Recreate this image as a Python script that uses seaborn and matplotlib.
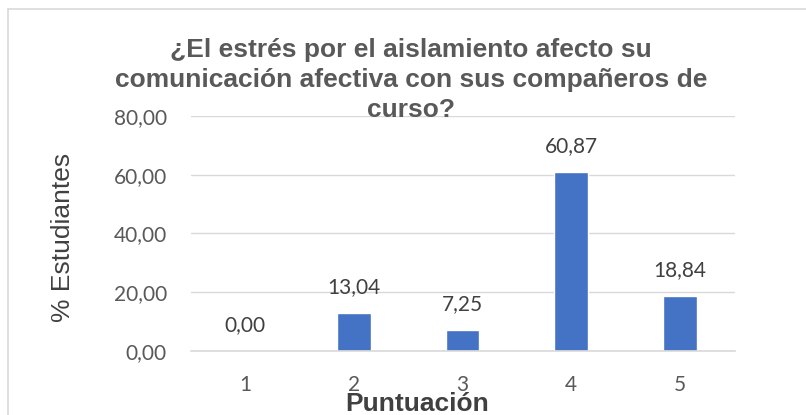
import matplotlib
matplotlib.use("Agg")
import matplotlib.pyplot as plt
import pandas as pd
import seaborn as sns
from matplotlib.lines import Line2D

# Datos del gráfico
puntuacion = ["1", "2", "3", "4", "5"]
porcentaje = [0.00, 13.04, 7.25, 60.87, 18.84]
yticks = [0, 20, 40, 60, 80]

titulo = ("¿El estrés por el aislamiento afecto su\n"
          "comunicación afectiva con sus compañeros de\n"
          "curso?")

df = pd.DataFrame({"Puntuacion": puntuacion, "Porcentaje": porcentaje})

W, H = 806, 415
sns.set_style("white")
fig = plt.figure(figsize=(W / 100, H / 100), dpi=100)
ax = fig.add_axes([190.5 / W, 1 - 351 / H, 544 / W, 235 / H])

sns.barplot(data=df, x="Puntuacion", y="Porcentaje", color="#4472C4",
            saturation=1, width=0.31, ax=ax)

ax.set_ylim(0, 80)
ax.set_yticks(yticks)
ax.set_yticklabels([f"{v:.2f}".replace(".", ",") for v in yticks])
ax.grid(axis="y", color="#d9d9d9", linewidth=1.0)
ax.set_axisbelow(True)
for s in ["top", "right", "left"]:
    ax.spines[s].set_visible(False)
ax.spines["bottom"].set_color("#d9d9d9")
ax.spines["bottom"].set_linewidth(1.2)
ax.tick_params(axis="both", length=0, labelsize=15, labelcolor="#595959")
ax.tick_params(axis="y", pad=17)
ax.tick_params(axis="x", pad=17)
for lab in ax.get_xticklabels() + ax.get_yticklabels():
    lab.set_family("Lato")
ax.set_xlabel("")
ax.set_ylabel("")

# Etiquetas de datos
for p, v in zip(ax.patches, porcentaje):
    ax.annotate(f"{v:.2f}".replace(".", ","),
                (p.get_x() + p.get_width() / 2., p.get_height()),
                ha="center", va="center", xytext=(0, 18.5),
                textcoords="offset points", fontsize=15,
                color="#404040", family="Lato")

fig.text(411 / W, 1 - 80 / H, titulo, ha="center", va="center",
         fontsize=19, fontweight="bold", color="#595959",
         family="Liberation Sans", linespacing=1.3)
fig.text(63 / W, 1 - 237.5 / H, "% Estudiantes", rotation=90,
         ha="center", va="center", fontsize=19, color="#404040",
         family="Liberation Sans")
fig.text(417 / W, 1 - 411 / H, "Puntuación", ha="center", va="baseline",
         fontsize=19, fontweight="bold", color="#404040",
         family="Liberation Sans")

# Marco del gráfico
fig.add_artist(Line2D([8 / W, 8 / W], [0, 1 - 9 / H], color="#d9d9d9",
                      linewidth=1.2, transform=fig.transFigure))
fig.add_artist(Line2D([8 / W, 1], [1 - 9 / H, 1 - 9 / H], color="#d9d9d9",
                      linewidth=1.2, transform=fig.transFigure))

fig.savefig("out.png", dpi=100)
